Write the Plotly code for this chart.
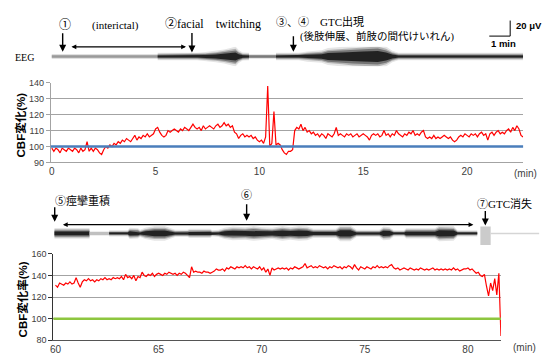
import plotly.graph_objects as go

# ---------------- data ----------------
# Top panel: CBF change (%) sampled every 0.1 min from 0 min
top_t0, top_dt = 0.0, 0.1
top_cbf = [
    99, 97, 99, 98, 96, 99, 98, 97, 99, 98,
    97, 99, 98, 96, 99, 97, 98, 103, 97, 99,
    97, 99, 98, 96, 95, 98, 100, 99, 101, 100,
    102, 101, 103, 102, 104, 103, 105, 104, 103, 105,
    107, 104, 106, 105, 107, 106, 108, 106, 107, 108,
    111, 112, 109, 107, 106, 107, 110, 109, 110, 111,
    110, 109, 111, 110, 112, 111, 110, 112, 114, 112,
    111, 112, 110, 113, 111, 112, 113, 112, 111, 113,
    114, 112, 113, 115, 113, 114, 112, 113, 109, 108,
    105, 107, 108, 106, 107, 106, 107, 105, 106, 104,
    103, 104, 102, 106, 138, 100, 102, 122, 101, 102,
    101, 98, 96, 95, 97, 97, 98, 110, 112, 111,
    114, 110, 112, 109, 110, 108, 109, 107, 108, 106,
    108, 107, 105, 108, 107, 106, 108, 112, 107, 108,
    107, 106, 108, 107, 108, 106, 107, 108, 106, 107,
    108, 107, 106, 104, 107, 108, 107, 108, 106, 107,
    110, 107, 108, 106, 108, 107, 110, 108, 107, 106,
    108, 107, 109, 108, 110, 107, 108, 107, 109, 110,
    106, 105, 106, 105, 107, 105, 106, 105, 106, 107,
    106, 105, 106, 104, 103, 104, 106, 107, 106, 108,
    107, 106, 108, 107, 108, 106, 108, 109, 107, 108,
    104, 108, 109, 107, 109, 110, 108, 109, 108, 110,
    111, 109, 112, 110, 113, 111, 107, 106,
]

# Bottom panel: CBF change rate (%) sampled every 0.1 min from 60 min
bot_t0, bot_dt = 60.0, 0.1
bot_cbf = [
    131, 129, 133, 132, 131, 133, 132, 134, 132, 133,
    138, 133, 129, 134, 136, 135, 137, 135, 136, 134,
    136, 135, 137, 136, 138, 136, 137, 136, 138, 137,
    138, 137, 139, 136, 141, 138, 139, 137, 140, 135,
    139, 138, 143, 140, 139, 141, 140, 142, 139, 141,
    142, 141, 140, 142, 141, 143, 142, 141, 142, 140,
    142, 141, 143, 142, 140, 138, 148, 143, 144, 143,
    143, 142, 144, 143, 143, 142, 143, 144, 146, 145,
    145, 146, 144, 147, 146, 148, 147, 146, 148, 147,
    148, 147, 149, 147, 148, 146, 148, 147, 146, 148,
    145, 147, 143, 146, 140, 147, 145, 146, 147, 146,
    147, 146, 147, 145, 147, 146, 148, 147, 146, 147,
    148, 151, 147, 148, 149, 147, 148, 147, 149, 148,
    147, 148, 146, 148, 147, 149, 148, 147, 148, 146,
    148, 147, 149, 148, 146, 150, 147, 145, 148, 147,
    146, 148, 147, 146, 148, 147, 149, 147, 148, 147,
    148, 147, 149, 150, 147, 146, 147, 145, 146, 147,
    146, 145, 147, 146, 145, 146, 145, 147, 146, 145,
    146, 145, 146, 147, 145, 146, 145, 146, 145, 146,
    145, 146, 145, 147, 145, 146, 144, 145, 146, 146,
    147, 145, 146, 144, 142, 143, 140, 139, 141, 130,
    121, 133, 126, 137, 122, 142, 84,
]
baseline = 100

top_xticks = [0, 5, 10, 15, 20]
top_yticks = [90, 100, 110, 120, 130, 140]
bot_xticks = [60, 65, 70, 75, 80]
bot_yticks = [80, 100, 120, 140, 160]

# EEG envelope (half-thickness) along time, top strip
eeg_top_light_t = [0.0, 5.1]
eeg_top_light_amp = [1.6, 1.6]
eeg_top_dark1_t = [5.1, 7.0, 7.4, 7.9, 8.3, 8.6, 8.85, 9.0, 9.2, 9.5]
eeg_top_dark1_amp = [1.6, 1.6, 2.2, 3.0, 4.0, 5.0, 6.0, 3.5, 1.8, 1.6]
eeg_top_mid_t = [9.5, 10.8]
eeg_top_mid_amp = [1.5, 1.5]
eeg_top_dark2_t = [10.8, 11.9, 12.3, 13.0, 13.3, 14.0, 14.5, 15.0, 15.7, 16.1, 16.4, 16.7, 22.7]
eeg_top_dark2_amp = [1.6, 1.6, 2.6, 3.4, 5.0, 6.0, 7.0, 7.5, 8.0, 6.0, 3.0, 1.6, 1.6]

# EEG envelope, bottom strip
eeg_bot_seg1_t = [59.95, 61.65]
eeg_bot_seg1_amp = [2.8, 2.8]
eeg_bot_seg2_t = [61.65, 62.6]
eeg_bot_seg2_amp = [1.8, 1.8]
eeg_bot_seg3_t = [62.6, 63.5, 63.6, 64.0, 64.1, 64.35, 64.8, 65.3, 65.8, 66.4,
                  66.5, 67.5, 67.6, 67.9, 68.2, 68.6, 69.2, 69.6, 70.0, 70.5,
                  71.0, 71.4, 71.8, 72.2, 72.5, 73.6, 73.8, 74.3, 74.6, 75.7,
                  75.9, 76.2, 76.4, 76.9, 77.0, 78.4, 78.6, 79.3, 79.5, 80.45]
eeg_bot_seg3_amp = [1.2, 1.2, 3.0, 2.6, 1.5, 3.0, 4.2, 4.2, 1.5, 1.5,
                    2.2, 2.2, 1.2, 1.5, 3.0, 3.8, 3.4, 4.2, 3.4, 3.0,
                    4.2, 3.4, 4.2, 3.8, 2.2, 2.2, 4.6, 4.6, 1.5, 1.5,
                    3.8, 3.4, 1.2, 1.2, 2.6, 2.6, 4.6, 4.2, 1.2, 1.2]
eeg_bot_artifact_t = [80.6, 81.1]
eeg_bot_artifact_y = [-12, 7]
eeg_bot_tail_t = [81.1, 83.45]
eeg_bot_tail_amp = [0.8, 0.8]

# ---------------- helpers ----------------
W, H = 542, 356


def px(x):
    return x / W


def py(y):
    return 1 - y / H


top_x = [round(top_t0 + i * top_dt, 2) for i in range(len(top_cbf))]
bot_x = [round(bot_t0 + i * bot_dt, 2) for i in range(len(bot_cbf))]

fig = go.Figure()


def band(t, amp, xa, ya, color, scale=1.0, add=0.0):
    up = [a * scale + add for a in amp]
    lo = [-(a * scale + add) for a in amp]
    fig.add_trace(go.Scatter(
        x=list(t) + list(t)[::-1], y=up + lo[::-1], xaxis=xa, yaxis=ya,
        fill="toself", fillcolor=color, mode="lines", line=dict(width=0),
        hoverinfo="skip", showlegend=False))


def fuzzy(t, amp, xa, ya):
    band(t, amp, xa, ya, "rgba(0,0,0,0.10)", 1.45, 1.5)
    band(t, amp, xa, ya, "rgba(0,0,0,0.22)", 1.2, 0.8)
    band(t, amp, xa, ya, "rgba(0,0,0,0.35)", 1.0, 0.3)
    band(t, amp, xa, ya, "rgba(20,20,20,0.85)", 0.7, 0.0)


# top EEG strip
band(eeg_top_light_t, eeg_top_light_amp, "x3", "y3", "rgba(120,120,120,0.3)", 1.0, 0.7)
band(eeg_top_light_t, eeg_top_light_amp, "x3", "y3", "#9a9a9a", 0.8, 0.0)
fuzzy(eeg_top_dark1_t, eeg_top_dark1_amp, "x3", "y3")
band(eeg_top_mid_t, eeg_top_mid_amp, "x3", "y3", "rgba(110,110,110,0.35)", 1.0, 0.6)
band(eeg_top_mid_t, eeg_top_mid_amp, "x3", "y3", "#7a7a7a", 0.8, 0.0)
fuzzy(eeg_top_dark2_t, eeg_top_dark2_amp, "x3", "y3")

# bottom EEG strip
fuzzy(eeg_bot_seg1_t, eeg_bot_seg1_amp, "x4", "y4")
band(eeg_bot_seg2_t, eeg_bot_seg2_amp, "x4", "y4", "#c0c0c0", 1.0, 0.0)
fuzzy(eeg_bot_seg3_t, eeg_bot_seg3_amp, "x4", "y4")
fig.add_trace(go.Scatter(
    x=[eeg_bot_artifact_t[0], eeg_bot_artifact_t[1], eeg_bot_artifact_t[1], eeg_bot_artifact_t[0]],
    y=[eeg_bot_artifact_y[0], eeg_bot_artifact_y[0], eeg_bot_artifact_y[1], eeg_bot_artifact_y[1]],
    xaxis="x4", yaxis="y4", fill="toself", fillcolor="rgba(160,160,160,0.55)",
    mode="lines", line=dict(width=0), hoverinfo="skip", showlegend=False))
band(eeg_bot_tail_t, eeg_bot_tail_amp, "x4", "y4", "#d5d5d5", 1.0, 0.0)

# CBF traces
fig.add_trace(go.Scatter(x=top_x, y=top_cbf, mode="lines", xaxis="x", yaxis="y",
                         line=dict(color="#ff0000", width=1.2), showlegend=False))
fig.add_trace(go.Scatter(x=bot_x, y=bot_cbf, mode="lines", xaxis="x2", yaxis="y2",
                         line=dict(color="#ff0000", width=1.2), showlegend=False))

# baselines
fig.add_shape(type="line", xref="x domain", yref="y", x0=0, x1=1, y0=baseline, y1=baseline,
              line=dict(color="#4a7ebb", width=2.6), layer="above")
fig.add_shape(type="line", xref="x2 domain", yref="y2", x0=0, x1=1, y0=baseline, y1=baseline,
              line=dict(color="#8dc63f", width=2.6), layer="above")

grid = "#a3a3a3"
tickfont_x = dict(family="Liberation Sans, Arial", size=10, color="#404040")
tickfont_y = dict(family="Liberation Sans, Arial", size=9, color="#404040")

fig.update_layout(
    width=W, height=H, margin=dict(l=0, r=0, t=0, b=0),
    paper_bgcolor="white", plot_bgcolor="white", showlegend=False,
    xaxis=dict(domain=[px(48), px(523)], range=[-0.05, 22.7], tickvals=top_xticks,
               showgrid=False, zeroline=False, showline=True, linecolor=grid, linewidth=1,
               ticks="", tickfont=tickfont_x, anchor="y"),
    yaxis=dict(domain=[py(162), py(80)], range=[90, 140], tickvals=top_yticks,
               showgrid=True, gridcolor=grid, gridwidth=1, zeroline=False,
               showline=True, linecolor=grid, ticks="outside", ticklen=4, tickcolor=grid,
               tickfont=tickfont_y, anchor="x"),
    xaxis2=dict(domain=[px(50.7), px(500.7)], range=[59.9, 81.6], tickvals=bot_xticks,
                showgrid=False, zeroline=False, showline=True, linecolor="#555555", linewidth=1,
                ticks="", tickfont=tickfont_x, anchor="y2"),
    yaxis2=dict(domain=[py(345), py(256)], range=[80, 160], tickvals=bot_yticks,
                showgrid=True, gridcolor=grid, gridwidth=1.3, zeroline=False,
                showline=True, linecolor="#333333", linewidth=1.3, ticks="outside", ticklen=4,
                tickcolor="#333333", tickfont=tickfont_y, anchor="x2"),
    xaxis3=dict(domain=[px(48), px(523)], range=[-0.05, 22.7], visible=False, anchor="y3"),
    yaxis3=dict(domain=[py(63), py(43)], range=[-10, 10], visible=False, anchor="x3"),
    xaxis4=dict(domain=[px(50.7), px(540)], range=[59.9, 59.9 + (540 - 50.7) / 20.74],
                visible=False, anchor="y4"),
    yaxis4=dict(domain=[py(247), py(223)], range=[-12, 12], visible=False, anchor="x4"),
)

serif = "Liberation Serif, Times New Roman, Noto Sans CJK JP, DejaVu Serif"
sans = "Liberation Sans, Arial, Noto Sans CJK JP"


def text(x, y, s, size=11, family=serif, xanchor="center", color="black", bold=False, angle=0):
    if bold:
        s = "<b>" + s + "</b>"
    fig.add_annotation(x=px(x), y=py(y), xref="paper", yref="paper", text=s, showarrow=False,
                       xanchor=xanchor, yanchor="middle", textangle=angle,
                       font=dict(family=family, size=size, color=color))


def arrow(x, y_tip, y_start):
    fig.add_annotation(x=px(x), y=py(y_tip), xref="paper", yref="paper", text="",
                       showarrow=True, ax=0, ay=-(y_tip - y_start), axref="pixel", ayref="pixel",
                       arrowhead=2, arrowsize=1, arrowwidth=1.4, arrowcolor="black", standoff=0)


def darrow(x0, x1, y):
    fig.add_annotation(x=px(x1), y=py(y), xref="paper", yref="paper", text="",
                       showarrow=True, ax=-(x1 - x0), ay=0, axref="pixel", ayref="pixel",
                       arrowhead=2, startarrowhead=2, arrowside="end+start", arrowsize=0.8,
                       startarrowsize=0.8, arrowwidth=1.2, arrowcolor="black",
                       standoff=0, startstandoff=0)


# top annotations
text(22, 54, "EEG", size=10)
text(62, 21, "①", size=12)
text(113, 21, "(interictal)", size=11)
text(211, 20, "②facial　twitching", size=12)
text(319, 17, "③、④　GTC出現", size=11)
text(376, 32, "(後肢伸展、前肢の間代けいれん)", size=10.5)
arrow(60, 48, 28)
arrow(190, 49, 28)
arrow(292, 48, 31)
darrow(68, 184, 43)

# scale bar
fig.add_shape(type="line", xref="paper", yref="paper", x0=px(489), x1=px(510), y0=py(32), y1=py(32),
              line=dict(color="black", width=1))
fig.add_shape(type="line", xref="paper", yref="paper", x0=px(510), x1=px(510), y0=py(16), y1=py(32),
              line=dict(color="black", width=1))
text(514, 21, "20 μV", size=9.5, family=sans, xanchor="left", bold=True)
text(503, 40, "1 min", size=9.5, family=sans, bold=True)

# bottom annotations
text(80, 201, "⑤痙攣重積", size=11)
text(245, 196, "⑥", size=11)
text(504, 204, "⑦GTC消失", size=11)
arrow(52, 223, 207)
arrow(245, 222, 204)
arrow(485, 227, 211)
darrow(61, 473, 226)

# axis unit labels & titles
text(525, 173, "(min)", size=10, family=sans, color="#404040")
text(524, 352, "(min)", size=10, family=sans, color="#404040")
text(18, 123, "CBF変化(%)", size=11.5, family=sans, bold=True, angle=-90)
text(20, 303, "CBF変化率(%)", size=11.5, family=sans, bold=True, angle=-90)

fig.write_html("out.html", config={"displayModeBar": False},
               post_script="document.body.style.margin='0';")
